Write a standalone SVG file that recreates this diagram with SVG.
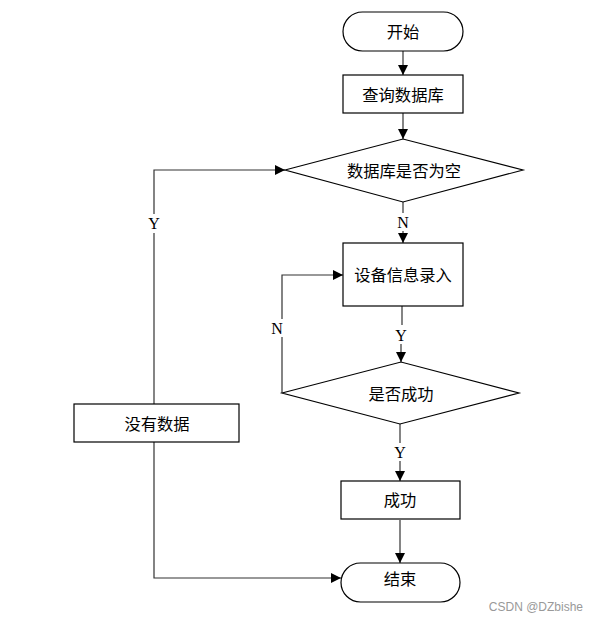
<svg xmlns="http://www.w3.org/2000/svg" width="597" height="622" viewBox="0 0 597 622">
<style>
.n{fill:#fff;stroke:#000;stroke-width:1.2}
.t{font-family:"Noto Sans CJK SC","Liberation Sans",sans-serif;font-size:16.3px;fill:#000;text-anchor:middle;dominant-baseline:central}
.c{fill:none;stroke:#333;stroke-width:1.2}
.l{font-family:"Liberation Serif",serif;font-size:16px;fill:#000;text-anchor:middle;dominant-baseline:central}
</style>
<defs>
<marker id="a" markerWidth="10" markerHeight="10" refX="10" refY="5" orient="auto" markerUnits="userSpaceOnUse">
<path d="M0,0 L10,5 L0,10 Z" fill="#000"/>
</marker>
</defs>
<rect width="597" height="622" fill="#fff"/>
<g id="connectors">
<line class="c" x1="403" y1="51" x2="403" y2="75" marker-end="url(#a)"/>
<line class="c" x1="403" y1="113" x2="403" y2="139" marker-end="url(#a)"/>
<polyline class="c" points="403,202 403,213"/>
<line class="c" x1="403" y1="231" x2="403" y2="243" marker-end="url(#a)"/>
<polyline class="c" points="402,306 402,325"/>
<line class="c" x1="401" y1="344" x2="401" y2="362" marker-end="url(#a)"/>
<polyline class="c" points="282,393 282,337"/>
<polyline class="c" points="282,319 282,275 343,275" marker-end="url(#a)"/>
<polyline class="c" points="400,424 400,443"/>
<line class="c" x1="400" y1="461" x2="400" y2="481" marker-end="url(#a)"/>
<line class="c" x1="400" y1="520" x2="400" y2="563" marker-end="url(#a)"/>
<polyline class="c" points="154,404 154,233"/>
<polyline class="c" points="154,214 154,170 285,170" marker-end="url(#a)"/>
<polyline class="c" points="154,442 154,578 341,578" marker-end="url(#a)"/>
<text class="l" x="403" y="222">N</text>
<text class="l" x="401" y="335">Y</text>
<text class="l" x="277" y="328">N</text>
<text class="l" x="400" y="452">Y</text>
<text class="l" x="154" y="223">Y</text>
</g>
<g id="start"><rect class="n" x="343" y="12" width="120" height="39" rx="19.5"/><text class="t" x="403" y="31">开始</text></g>
<g id="query"><rect class="n" x="343" y="75" width="120" height="38"/><text class="t" x="403" y="94">查询数据库</text></g>
<g id="isEmpty"><polygon class="n" points="285,170 403,139 523,170 403,202"/><text class="t" x="404" y="170">数据库是否为空</text></g>
<g id="input"><rect class="n" x="343" y="243" width="120" height="63"/><text class="t" x="403" y="274">设备信息录入</text></g>
<g id="isOk"><polygon class="n" points="282,393 401,362 519,393 400,424"/><text class="t" x="401" y="393">是否成功</text></g>
<g id="success"><rect class="n" x="341" y="481" width="119" height="38"/><text class="t" x="400" y="499">成功</text></g>
<g id="end"><rect class="n" x="341" y="563" width="119" height="39" rx="19.5"/><text class="t" x="400" y="578">结束</text></g>
<g id="noData"><rect class="n" x="74" y="404" width="165" height="38"/><text class="t" x="157" y="423">没有数据</text></g>
<text x="583" y="611" font-family="'Liberation Sans',sans-serif" font-size="12" fill="#999" text-anchor="end">CSDN @DZbishe</text>
</svg>
